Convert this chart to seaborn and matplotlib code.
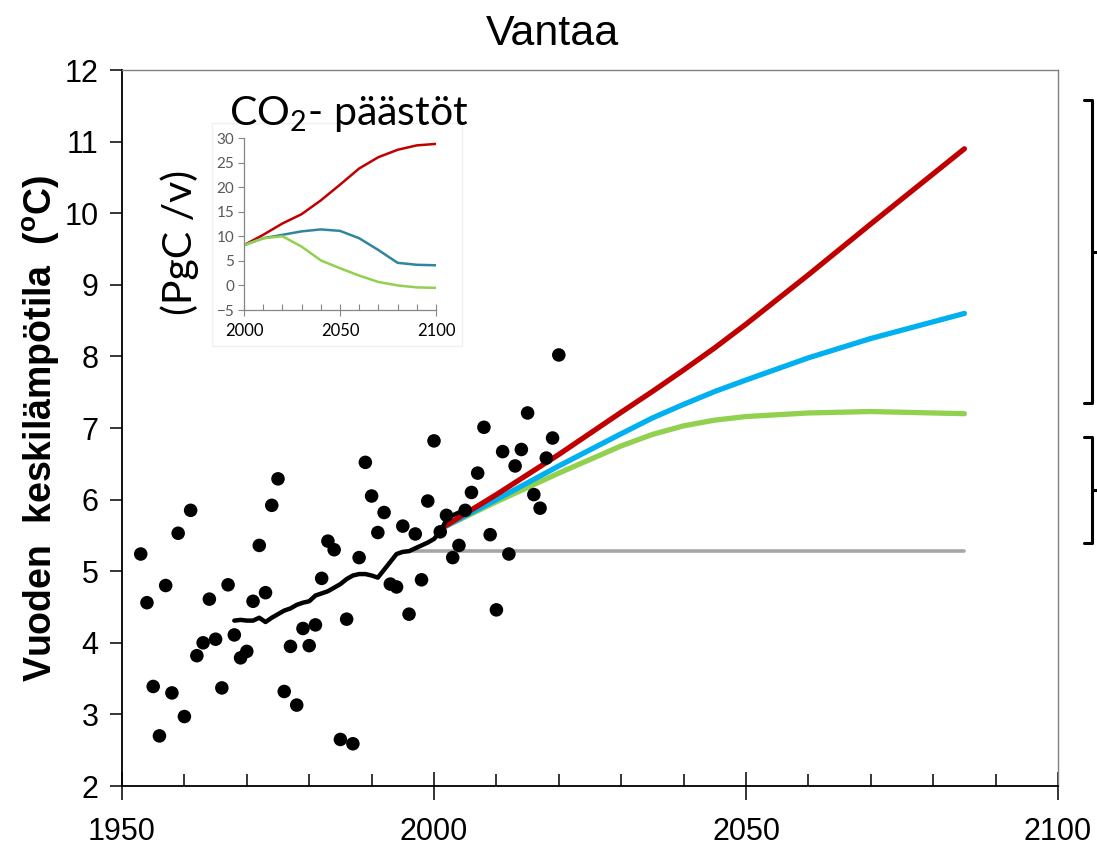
import numpy as np
import pandas as pd
import matplotlib
matplotlib.use('Agg')
import matplotlib.pyplot as plt
import seaborn as sns
from matplotlib.lines import Line2D
from matplotlib.patches import Rectangle
from matplotlib.ticker import MultipleLocator, FixedLocator

# observed annual mean temperature, Vantaa
obs_years = list(range(1953, 2021))
obs_temp = [5.24, 4.56, 3.39, 2.70, 4.80, 3.30, 5.53, 2.97, 5.85, 3.82,
            4.00, 4.61, 4.05, 3.37, 4.81, 4.11, 3.79, 3.88, 4.58, 5.36,
            4.70, 5.92, 6.29, 3.32, 3.95, 3.13, 4.20, 3.96, 4.25, 4.90,
            5.42, 5.30, 2.65, 4.33, 2.59, 5.19, 6.52, 6.05, 5.54, 5.82,
            4.82, 4.78, 5.63, 4.40, 5.52, 4.88, 5.98, 6.82, 5.55, 5.78,
            5.19, 5.36, 5.85, 6.10, 6.37, 7.01, 5.51, 4.46, 6.67, 5.24,
            6.47, 6.70, 7.21, 6.07, 5.88, 6.58, 6.86, 8.02]

# running mean
mean_years = list(range(1968, 2006))
mean_temp = [4.31, 4.32, 4.31, 4.31, 4.35, 4.29, 4.35, 4.40, 4.45, 4.48,
             4.53, 4.56, 4.58, 4.66, 4.69, 4.72, 4.77, 4.82, 4.89, 4.94,
             4.96, 4.96, 4.94, 4.91, 5.02, 5.13, 5.24, 5.27, 5.28, 5.32,
             5.36, 5.40, 5.45, 5.55, 5.72, 5.78, 5.82, 5.85]

# constant baseline
base_years = [1996, 2085]
base_temp = [5.28, 5.28]

# scenario projections
proj_years = [2001, 2010, 2020, 2030, 2035, 2040, 2045, 2050, 2060, 2070, 2085]
proj_high = [5.59, 6.07, 6.63, 7.22, 7.51, 7.81, 8.12, 8.45, 9.14, 9.85, 10.90]
proj_mid = [5.59, 6.00, 6.47, 6.92, 7.14, 7.33, 7.51, 7.67, 7.98, 8.25, 8.60]
proj_low = [5.59, 5.97, 6.37, 6.75, 6.91, 7.03, 7.11, 7.16, 7.21, 7.23, 7.20]

# CO2 emissions (PgC / v)
co2_years = [2000, 2010, 2020, 2030, 2040, 2050, 2060, 2070, 2080, 2090, 2100]
co2_high = [8.2, 10.3, 12.6, 14.5, 17.3, 20.5, 23.8, 26.1, 27.6, 28.5, 28.8]
co2_mid = [8.2, 9.6, 10.3, 11.0, 11.4, 11.1, 9.6, 7.2, 4.6, 4.2, 4.1]
co2_low = [8.2, 9.6, 10.0, 7.9, 5.1, 3.5, 2.0, 0.7, 0.0, -0.4, -0.5]

red = '#c00000'
blue = '#00b0f0'
green = '#92d050'
teal = '#31859c'

sns.set_style('ticks')
plt.rcParams['font.family'] = ['Liberation Sans', 'DejaVu Sans']
plt.rcParams['mathtext.fontset'] = 'custom'
plt.rcParams['mathtext.rm'] = 'Lato'
plt.rcParams['mathtext.bf'] = 'Liberation Sans:bold'
for key in ['text.color', 'axes.labelcolor', 'xtick.color', 'ytick.color']:
    plt.rcParams[key] = 'black'

W, H = 1097, 848
fig = plt.figure(figsize=(W / 100, H / 100), dpi=100)
ax = fig.add_axes([122 / W, 1 - 786 / H, 936 / W, 716 / H])

proj = pd.DataFrame({
    'year': proj_years * 3,
    'temp': proj_low + proj_mid + proj_high,
    'scenario': ['low'] * len(proj_years) + ['mid'] * len(proj_years) + ['high'] * len(proj_years),
})

sns.lineplot(x=base_years, y=base_temp, color='#a6a6a6', lw=2.6, ax=ax, zorder=2)
sns.lineplot(data=proj, x='year', y='temp', hue='scenario', hue_order=['low', 'mid', 'high'],
             palette={'low': green, 'mid': blue, 'high': red}, lw=3.8, legend=False, ax=ax, zorder=3)
sns.lineplot(x=mean_years, y=mean_temp, color='black', lw=3.2, ax=ax, zorder=4)
sns.scatterplot(x=obs_years, y=obs_temp, color='black', s=95, edgecolor='none', ax=ax, zorder=5)

ax.set_xlim(1950, 2100)
ax.set_ylim(2, 12)
ax.xaxis.set_major_locator(FixedLocator([1950, 2000, 2050, 2100]))
ax.xaxis.set_minor_locator(MultipleLocator(10))
ax.yaxis.set_major_locator(MultipleLocator(1))
ax.tick_params(axis='x', which='major', direction='inout', length=20, width=1.1,
               labelsize=22, pad=12)
ax.tick_params(axis='x', which='minor', direction='in', length=9, width=1.1)
ax.tick_params(axis='y', which='major', direction='out', length=9, width=1.1,
               labelsize=22, pad=8)
for s in ['left', 'bottom']:
    ax.spines[s].set_color('black')
    ax.spines[s].set_linewidth(1.3)
for s in ['top', 'right']:
    ax.spines[s].set_color('#808080')
    ax.spines[s].set_linewidth(1.0)
ax.set_xlabel('')
ax.set_ylabel('Vuoden  keskilämpötila  ($^{\\mathbf{o}}$C)', fontsize=27,
              fontweight='bold', va='center')
ax.yaxis.set_label_coords(-0.0865, 0.5)

fig.text(0.504, 1 - 45 / H, 'Vantaa', ha='center', va='baseline', fontsize=31)

# inset: CO2 emissions
fig.patches.append(Rectangle((212 / W, 1 - 346 / H), 250 / W, 223 / H,
                             transform=fig.transFigure, facecolor='white',
                             edgecolor='#f0f0f0', lw=1, zorder=1))
axi = fig.add_axes([244 / W, 1 - 310 / H, 192 / W, 172 / H])
axi.set_zorder(2)
sns.lineplot(x=co2_years, y=co2_high, color=red, lw=1.8, ax=axi)
sns.lineplot(x=co2_years, y=co2_mid, color=teal, lw=1.8, ax=axi)
sns.lineplot(x=co2_years, y=co2_low, color=green, lw=1.8, ax=axi)
axi.set_xlim(2000, 2100)
axi.set_ylim(-5, 30)
axi.xaxis.set_major_locator(FixedLocator([2000, 2050, 2100]))
axi.xaxis.set_minor_locator(MultipleLocator(10))
axi.yaxis.set_major_locator(MultipleLocator(5))
axi.tick_params(axis='x', which='major', direction='inout', length=8, width=0.8,
                color='#868686', labelsize=12, pad=5)
axi.tick_params(axis='x', which='minor', direction='in', length=4, width=0.8, color='#868686')
axi.tick_params(axis='y', direction='out', length=4, width=0.8, color='#868686',
                labelsize=11, labelcolor='#595959', pad=3)
for lab in axi.get_xticklabels() + axi.get_yticklabels():
    lab.set_fontfamily('Lato')
axi.spines['top'].set_visible(False)
axi.spines['right'].set_visible(False)
for s in ['left', 'bottom']:
    axi.spines[s].set_color('#868686')
    axi.spines[s].set_linewidth(0.9)
axi.set_xlabel('')
axi.set_ylabel('')

fig.text(229 / W, 1 - 125 / H, 'CO$_2$- päästöt', ha='left', va='baseline',
         fontsize=29.5, family='Lato', zorder=3)
fig.text(180 / W, 1 - 242 / H, '(PgC /v)', ha='center', va='center', rotation=90,
         fontsize=29.5, family='Lato', zorder=3)

# range brackets on the right edge
def bracket(top, bottom):
    xs = [1084 / W, 1092 / W, 1092 / W, 1084 / W]
    ys = [1 - top / H, 1 - top / H, 1 - bottom / H, 1 - bottom / H]
    fig.add_artist(Line2D(xs, ys, color='black', lw=2.2, transform=fig.transFigure))
    mid = 1 - (top + bottom) / 2 / H
    fig.add_artist(Line2D([1092 / W, 1 + 2 / W], [mid, mid], color='black', lw=2.2,
                          transform=fig.transFigure))

bracket(100, 403)
bracket(437, 543)

fig.savefig('out.png', dpi=100)
